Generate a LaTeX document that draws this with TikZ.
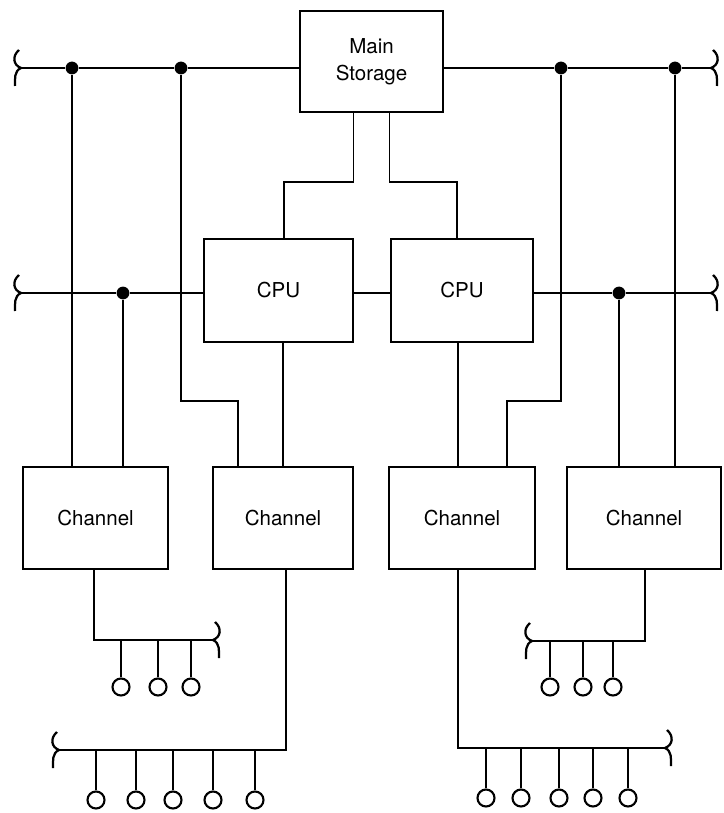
\documentclass[tikz,border=0pt]{standalone}
\usepackage{fontspec}
\setmainfont{TeX Gyre Heros}
\usetikzlibrary{positioning}

\tikzset{
  unit/.style={draw, line width=2pt, align=center, inner sep=0pt, font=\fontsize{14.6}{19}\selectfont},
  joint/.style={circle, fill, inner sep=0pt, minimum size=0.32cm},
  dev/.style={draw, circle, line width=1.5pt, inner sep=0pt, minimum size=0.425cm},
  brk/.pic={\draw[line width=1.6pt] (-2,-18) .. controls (-9,-12) and (-8,-3) .. (0,0) .. controls (-7,3) and (-6,11) .. (-6,18);}
}

\begin{document}
\begin{tikzpicture}[x=0.025cm, y=-0.025cm, line width=1.2pt]
    \useasboundingbox (0,0) rectangle (723,813);

    \node[unit, minimum width=3.575cm, minimum height=2.525cm] (ms) at (371.5,61.5) {Main\\Storage};

    \node[unit, minimum width=3.725cm, minimum height=2.575cm] (cpua) at (278.5,290.5) {CPU};
    \node[unit, minimum width=3.55cm, minimum height=2.575cm] (cpub) at (462,290.5) {CPU};

    \node[unit, minimum width=3.625cm, minimum height=2.55cm] (cha) at (95.5,518) {Channel};
    \node[unit, minimum width=3.5cm, minimum height=2.55cm] (chb) at (283,518) {Channel};
    \node[unit, minimum width=3.65cm, minimum height=2.55cm] (chc) at (462,518) {Channel};
    \node[unit, minimum width=3.85cm, minimum height=2.55cm] (chd) at (644,518) {Channel};

    % buses
    \coordinate (tl) at (21,68);
    \coordinate (tr) at (711,68);
    \coordinate (ml) at (21,293);
    \coordinate (mr) at (711,293);

    \node[joint] (da) at (72,68) {};
    \node[joint] (db) at (181,68) {};
    \node[joint] (dc) at (561,68) {};
    \node[joint] (dd) at (675,68) {};
    \node[joint] (de) at (123,293) {};
    \node[joint] (df) at (619,293) {};

    \draw (tl) -- (da) -- (db) -- (ms.west |- tl);
    \draw (ms.east |- tr) -- (dc) -- (dd) -- (tr);
    \draw (ml) -- (de) -- (cpua.west |- ml);
    \draw (cpua.east |- ml) -- (cpub.west |- ml);
    \draw (cpub.east |- mr) -- (df) -- (mr);
    \pic at (tl) {brk};
    \pic[xscale=-1] at (tr) {brk};
    \pic at (ml) {brk};
    \pic[xscale=-1] at (mr) {brk};

    % storage to cpus
    \coordinate (ja) at (284,182);
    \coordinate (jb) at (457,182);
    \draw ([xshift=-0.45cm]ms.south) |- (ja) -- (ja |- cpua.north);
    \draw ([xshift=0.45cm]ms.south) |- (jb) -- (jb |- cpub.north);

    % to channels
    \coordinate (ka) at (238,401);
    \coordinate (kb) at (507,401);
    \draw (da) -- (da |- cha.north);
    \draw (de) -- (de |- cha.north);
    \draw (db) |- (ka) -- (ka |- chb.north);
    \draw (cpua.south -| chb.north) -- (chb.north);
    \draw ([xshift=-0.1cm]cpub.south) -- ([xshift=-0.1cm]cpub.south |- chc.north);
    \draw (dc) |- (kb) -- (kb |- chc.north);
    \draw (df) -- (df |- chd.north);
    \draw (dd) -- (dd |- chd.north);

    % devices
    \coordinate (pa) at (94,640);
    \coordinate (ea) at (213,640);
    \coordinate (pb) at (286,750);
    \coordinate (eb) at (59,750);
    \coordinate (pc) at (458,748);
    \coordinate (ec) at (665,748);
    \coordinate (pd) at (645,641);
    \coordinate (ed) at (532,641);

    \draw (cha.south -| pa) -- (pa) -- (ea);
    \draw (chb.south -| pb) -- (pb) -- (eb);
    \draw (chc.south -| pc) -- (pc) -- (ec);
    \draw (chd.south -| pd) -- (pd) -- (ed);
    \pic[xscale=-1] at (ea) {brk};
    \pic at (eb) {brk};
    \pic[xscale=-1] at (ec) {brk};
    \pic at (ed) {brk};

    \node[dev] (a1) at (121,687) {};
    \node[dev] (a2) at (158,687) {};
    \node[dev] (a3) at (191,687) {};
    \draw (a1) -- (a1 |- pa) (a2) -- (a2 |- pa) (a3) -- (a3 |- pa);

    \node[dev] (b1) at (96,800) {};
    \node[dev] (b2) at (136,800) {};
    \node[dev] (b3) at (173,800) {};
    \node[dev] (b4) at (213,800) {};
    \node[dev] (b5) at (255,800) {};
    \draw (b1) -- (b1 |- pb) (b2) -- (b2 |- pb) (b3) -- (b3 |- pb) (b4) -- (b4 |- pb) (b5) -- (b5 |- pb);

    \node[dev] (c1) at (486,798) {};
    \node[dev] (c2) at (521,798) {};
    \node[dev] (c3) at (559,798) {};
    \node[dev] (c4) at (593,798) {};
    \node[dev] (c5) at (628,798) {};
    \draw (c1) -- (c1 |- pc) (c2) -- (c2 |- pc) (c3) -- (c3 |- pc) (c4) -- (c4 |- pc) (c5) -- (c5 |- pc);

    \node[dev] (d1) at (550,687) {};
    \node[dev] (d2) at (583,687) {};
    \node[dev] (d3) at (613,687) {};
    \draw (d1) -- (d1 |- pd) (d2) -- (d2 |- pd) (d3) -- (d3 |- pd);

\end{tikzpicture}
\end{document}
